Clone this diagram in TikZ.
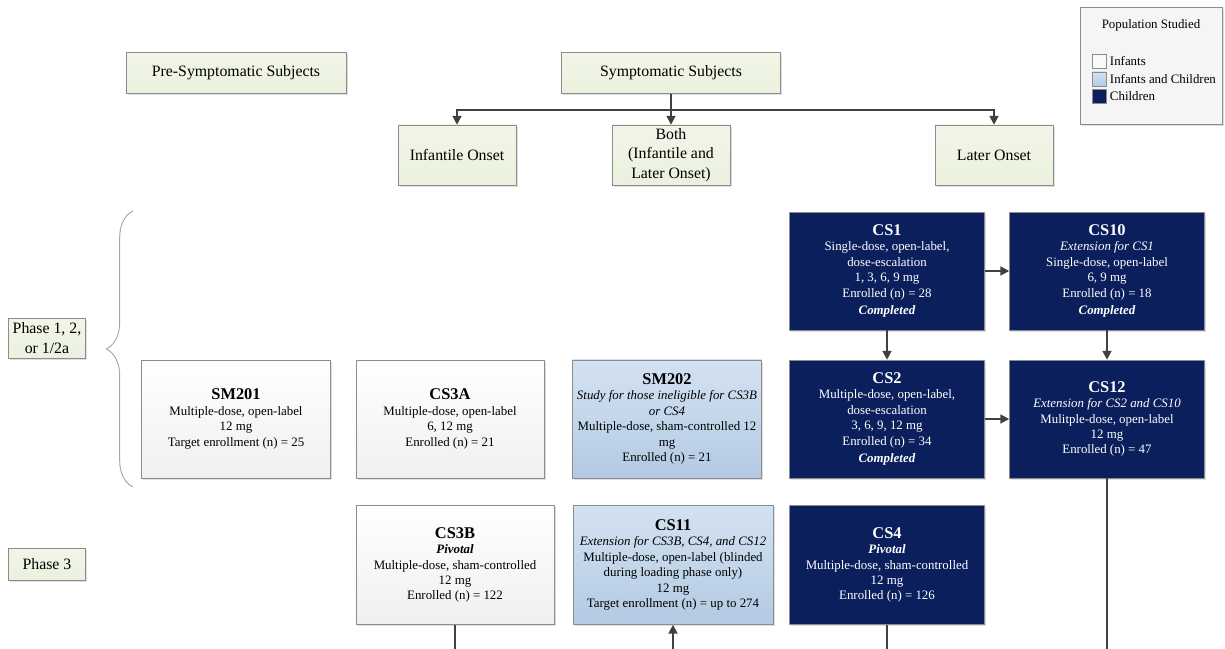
\documentclass[tikz,border=0pt]{standalone}
\usepackage{fontspec}
\setmainfont{Liberation Serif}
\usetikzlibrary{shapes,arrows.meta,positioning,calc,shadows,decorations.pathreplacing}

\definecolor{grnfill}{HTML}{EBF1DE}
\definecolor{navy}{HTML}{0A1F5C}
\definecolor{boxline}{HTML}{8C8C8C}
\definecolor{conngray}{HTML}{404040}
\definecolor{lbluetop}{HTML}{D3E2F2}
\definecolor{lbluebot}{HTML}{B3CAE3}

\tikzset{
  every node/.style={font=\fontsize{11}{13.2}\selectfont, align=center, inner sep=2pt},
  boxshadow/.style={drop shadow={opacity=0.25, shadow xshift=1.5pt, shadow yshift=-1.5pt}},
  grnbox/.style={draw=boxline, top color=grnfill!70!white, bottom color=grnfill, boxshadow, font=\fontsize{13.5}{16.5}\selectfont},
  onsetbox/.style={grnbox, minimum width=3.54cm, minimum height=1.8cm},
  infbox/.style={draw=boxline, top color=white, bottom color=gray!12, boxshadow,
        minimum width=5.67cm, minimum height=3.54cm},
  bothbox/.style={draw=boxline, top color=lbluetop, bottom color=lbluebot, boxshadow,
        minimum width=5.67cm, minimum height=3.54cm},
  chbox/.style={draw=boxline, fill=navy, text=white, boxshadow,
        minimum width=5.85cm, minimum height=3.54cm},
  conn/.style={draw=conngray, line width=1.6pt},
  arr/.style={conn, -{Triangle[length=7.5pt, width=7.5pt]}},
  swatch/.style={draw=boxline, minimum size=0.42cm, inner sep=0pt},
  legtext/.style={font=\fontsize{11}{13}\selectfont, inner sep=1pt}
}
\newcommand{\studytitle}[1]{{\fontsize{14}{16}\selectfont\bfseries #1}}

\begin{document}
\begin{tikzpicture}[x=0.03cm, y=-0.03cm]
  \useasboundingbox (0,0) rectangle (1225,649);

  % Subject groups
  \node[grnbox, minimum width=6.6cm, minimum height=1.23cm] (presym) at (236,73) {Pre-Symptomatic Subjects};
  \node[grnbox, minimum width=6.57cm, minimum height=1.23cm] (sym) at (671,73) {Symptomatic Subjects};
  \node[onsetbox] (infonset) at (457,155) {Infantile Onset};
  \node[onsetbox] (both) at (671,155) {Both\\(Infantile and\\Later Onset)};
  \node[onsetbox] (lateonset) at (994,155) {Later Onset};

  \coordinate (split) at (671,110);
  \draw[conn] (sym.south) -- (split);
  \draw[arr] (split) -| (infonset.north);
  \draw[arr] (split) -- (both.north);
  \draw[arr] (split) -| (lateonset.north);

  % Phases
  \node[grnbox, minimum width=2.31cm, minimum height=1.2cm] (ph12) at (47,338) {Phase 1, 2,\\or 1/2a};
  \node[grnbox, minimum width=2.31cm, minimum height=0.96cm] (ph3) at (47,564) {Phase 3};
  \coordinate (brbot) at (133,487);
  \coordinate (brtop) at (133,211);
  \draw[draw=gray!70, line width=0.8pt, decorate, decoration={brace, amplitude=0.8cm}] (brbot) -- (brtop);

  % Phase 1, 2, or 1/2a studies
  \node[infbox] (sm201) at (236,419)
       {\studytitle{SM201}\\Multiple-dose, open-label\\12 mg\\Target enrollment (n) = 25};
  \node[infbox, minimum width=5.64cm] (cs3a) at (450,419)
       {\studytitle{CS3A}\\Multiple-dose, open-label\\6, 12 mg\\Enrolled (n) = 21};
  \node[bothbox] (sm202) at (667,419)
       {\studytitle{SM202}\\\textit{Study for those ineligible for CS3B}\\\textit{or CS4}\\Multiple-dose, sham-controlled 12\\mg\\Enrolled (n) = 21};
  \node[chbox] (cs1) at (887,271)
       {\studytitle{CS1}\\Single-dose, open-label,\\dose-escalation\\1, 3, 6, 9 mg\\Enrolled (n) = 28\\[2pt]\textbf{\textit{Completed}}};
  \node[chbox] (cs10) at (1107,271)
       {\studytitle{CS10}\\\textit{Extension for CS1}\\Single-dose, open-label\\6, 9 mg\\Enrolled (n) = 18\\[2pt]\textbf{\textit{Completed}}};
  \node[chbox] (cs2) at (887,419)
       {\studytitle{CS2}\\Multiple-dose, open-label,\\dose-escalation\\3, 6, 9, 12 mg\\Enrolled (n) = 34\\[2pt]\textbf{\textit{Completed}}};
  \node[chbox] (cs12) at (1107,419)
       {\studytitle{CS12}\\\textit{Extension for CS2 and CS10}\\Mulitple-dose, open-label\\12 mg\\Enrolled (n) = 47};

  % Phase 3 studies
  \node[infbox, minimum width=5.94cm, minimum height=3.57cm] (cs3b) at (455,565)
       {\studytitle{CS3B}\\\textbf{\textit{Pivotal}}\\Multiple-dose, sham-controlled\\12 mg\\Enrolled (n) = 122};
  \node[bothbox, minimum width=6.0cm, minimum height=3.57cm] (cs11) at (673,565)
       {\studytitle{CS11}\\\textit{Extension for CS3B, CS4, and CS12}\\Multiple-dose, open-label (blinded\\during loading phase only)\\12 mg\\Target enrollment (n) = up to 274};
  \node[chbox, minimum height=3.57cm] (cs4) at (887,565)
       {\studytitle{CS4}\\\textbf{\textit{Pivotal}}\\Multiple-dose, sham-controlled\\12 mg\\Enrolled (n) = 126};

  \draw[arr] (cs1) -- (cs10);
  \draw[arr] (cs1) -- (cs2);
  \draw[arr] (cs10) -- (cs12);
  \draw[arr] (cs2) -- (cs12);

  \coordinate (cs3bout) at (455,649);
  \coordinate (cs11in) at (673,649);
  \coordinate (cs4out) at (887,649);
  \coordinate (cs12out) at (1107,649);
  \draw[conn] (cs3b) -- (cs3bout);
  \draw[arr] (cs11in) -- (cs11);
  \draw[conn] (cs4) -- (cs4out);
  \draw[conn] (cs12) -- (cs12out);

  % Legend
  \node[draw=boxline, fill=gray!8, boxshadow, minimum width=4.26cm, minimum height=3.51cm] (legend) at (1151,66) {};
  \node[legtext] (legtitle) at (1151,25) {Population Studied};
  \node[swatch, fill=gray!5] (swinf) at (1099,61) {};
  \node[swatch, top color=lbluetop, bottom color=lbluebot] (swboth) at (1099,79) {};
  \node[swatch, fill=navy] (swch) at (1099,96) {};
  \node[legtext, right=2pt of swinf] (lginf) {Infants};
  \node[legtext, right=2pt of swboth] (lgboth) {Infants and Children};
  \node[legtext, right=2pt of swch] (lgch) {Children};
\end{tikzpicture}
\end{document}
